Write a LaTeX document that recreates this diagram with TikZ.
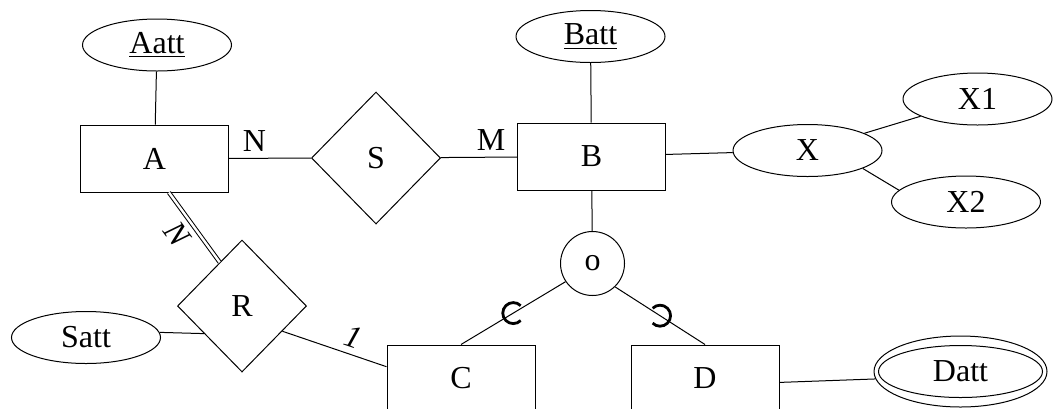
\documentclass[tikz,border=0pt]{standalone}
\usepackage{fontspec}
\setmainfont{Liberation Serif}
\usetikzlibrary{shapes.geometric}

\begin{document}
\begin{tikzpicture}[x=0.5pt, y=-0.5pt, line width=0.5pt,
    font=\fontsize{16}{19}\selectfont,
    entite/.style={draw, rectangle, minimum width=74pt, minimum height=33.5pt},
    attribut/.style={draw, ellipse, minimum width=74.5pt, minimum height=26pt, inner sep=0pt},
    relation/.style={draw, diamond, minimum width=64.5pt, minimum height=66pt, inner sep=0pt},
    sousens/.style={line width=1.4pt}]
    \useasboundingbox (0,0) rectangle (1053,408);

        % Entites
        \node[entite] (A) at (154.5,158.5) {A};
        \node[entite] (B) at (591.5,156.5) {B};
        \node[entite] (C) at (461,378.5) {C};
        \node[entite] (D) at (705,378.5) {D};

        % Relations
        \node[relation] (S) at (376,158) {S};
        \node[relation] (R) at (242,306) {R};
        \node[draw, circle, minimum size=32pt, inner sep=0pt] (o) at (592.5,263.5) {o};

        % Attributs
        \node[attribut] (Aatt) at (157,45) {\underline{Aatt}};
        \node[attribut] (Batt) at (590.5,36.5) {\underline{Batt}};
        \node[attribut] (X) at (807.5,150.5) {X};
        \node[attribut] (X1) at (977.5,99) {X1};
        \node[attribut] (X2) at (966,202) {X2};
        \node[attribut] (Satt) at (86,337.5) {Satt};
        % Attribut multivalue (double ellipse)
        \node[attribut, minimum width=82pt] (Datt) at (960.5,371.5) {Datt};
        \node[draw, ellipse, minimum width=86.5pt, minimum height=35.5pt] (Dout) at (960.5,371.5) {};

        % Liens
        \draw (Aatt) -- (A);
        \draw (Batt) -- (B);
        \draw (A) -- node[pos=0.31, above] {N} (S);
        \draw (S) -- node[pos=0.66, above] {M} (B);
        \draw (B) -- (X);
        \draw (X) -- (X1);
        \draw (X.-18) -- (X2.170);
        \draw (D.-3) -- (Dout.185);
        \draw (Satt.4) -- (R.216);
        \draw[double, double distance=1.2pt] (A.-67) -- node[pos=0.45, sloped, below] {\textit{N}} (R.117);
        \draw (R.-32) -- node[pos=0.63, sloped, above] {\textit{1}} (C.171);

        % Specialisation
        \draw (B) -- (o);
        \draw (o.214) -- coordinate[pos=0.5] (sc) (C.north);
        \draw (o.-46) -- coordinate[pos=0.5] (sd) (D.north);
        \draw[sousens] (sc) ++(45:10.5) arc[start angle=45, end angle=315, radius=10.5];
        \draw[sousens] (sd) ++(-135:10.5) arc[start angle=-135, end angle=135, radius=10.5];

    \end{tikzpicture}
\end{document}
